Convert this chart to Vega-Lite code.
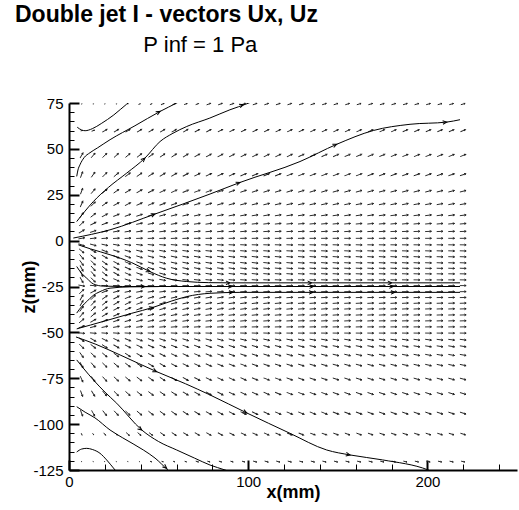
{
  "$schema": "https://vega.github.io/schema/vega-lite/v6.json",
  "width": 448,
  "height": 367,
  "autosize": {"type": "none"},
  "padding": {"left": 69, "top": 103, "right": 2, "bottom": 40},
  "background": "white",
  "config": {"view": {"stroke": null}, "font": "Liberation Sans"},
  "title": {
    "text": "Double jet I - vectors Ux, Uz",
    "subtitle": "\u200b\u00a0\u00a0\u00a0\u00a0\u00a0\u00a0\u00a0\u00a0\u00a0\u00a0\u00a0\u00a0\u00a0\u00a0\u00a0\u00a0\u00a0\u00a0\u00a0\u00a0\u00a0P inf = 1 Pa",
    "anchor": "start",
    "frame": "group",
    "dx": -54,
    "offset": 40,
    "font": "Liberation Sans",
    "fontSize": 23,
    "fontWeight": "bold",
    "color": "black",
    "subtitleFont": "Liberation Sans",
    "subtitleFontSize": 22,
    "subtitleColor": "black",
    "subtitlePadding": 8
  },
  "datasets": {
    "cols": [
      {"k":1,"x":7},{"k":2,"x":13.45},{"k":3,"x":19.9},{"k":4,"x":26.35},{"k":5,"x":32.8},{"k":6,"x":39.25},{"k":7,"x":45.7},{"k":8,"x":52.15},{"k":9,"x":58.6},{"k":10,"x":65.05},{"k":11,"x":71.5},{"k":12,"x":77.95},{"k":13,"x":84.4},{"k":14,"x":90.85},{"k":15,"x":97.3},{"k":16,"x":103.75},{"k":17,"x":110.2},{"k":18,"x":116.65},{"k":19,"x":123.1},{"k":20,"x":129.55},{"k":21,"x":136},{"k":22,"x":142.45},{"k":23,"x":148.9},{"k":24,"x":155.35},{"k":25,"x":161.8},{"k":26,"x":168.25},{"k":27,"x":174.7},{"k":28,"x":181.15},{"k":29,"x":187.6},{"k":30,"x":194.05},{"k":31,"x":200.5},{"k":32,"x":206.95},{"k":33,"x":213.4},{"k":34,"x":219.85}
    ],
    "rows": [
      {"z":74.4,"m":0.1,"a":[30,30,30,30,30]},
      {"z":74.4,"m":0.3,"a":[28,28]},
      {"z":74.4,"m":0.5,"a":[24,22,21,20]},
      {"z":74.4,"m":0.7,"a":[20,20,19,19,19,18,18,18,18,17,17,17,17,16,16,16,16,16,15,15,15,15,15]},
      {"z":59.9,"m":0.3,"a":[10]},
      {"z":59.9,"m":0.5,"a":[20]},
      {"z":59.9,"m":0.85,"a":[30,32,32,32,31,31,30,30,29,29,28,28,27,27,27,26,26,26,25,25,25,25,24,24,24,24,23,23,23,23,22,22]},
      {"z":46.4,"m":0.95,"a":[60,50,45,42,40,38,36,34,33,31,30,29,29,28,27,27,26,26,26,25,25,25,25,24,24,24,24,23,23,23,23,22,22,22]},
      {"z":35.9,"m":1,"a":[70,55,45,40,37,35,33,31,30,28,27,26,26,25,24,24,23,23,22,22,22,22,21,21,21,20,20,20,19,19,19,18,18,18]},
      {"z":26.9,"m":1,"a":[70,50,40,35,32,30,28,26,25,23,22,21,21,20,19,19,18,18,17,17,17,17,16,16,16,16,15,15,15,15,15,14,14,14]},
      {"z":19.9,"m":1,"a":[65,45,35,30,27,25,23,21,20,18,17,16,16,15,14,14,13,13,12,12,12,12,12,11,11,11,11,11,11,10,10,10,10,10]},
      {"z":13.8,"m":1,"a":[55,38,28,23,20,18,16,15,14,13,12,11,11,10,10,9,9,9,8,8,8,8,8,8,8,8,7,7,7,7,7,7,7,7]},
      {"z":9.2,"m":1,"a":[45,28,20,16,14,12,11,10,10,9,8,8,7,7,7,6,6,6,5,5,5,5,5,5,5,5,5,5,5,5,5,5,5,5]},
      {"z":5.0,"m":1,"a":[30,18,12,10,9,8,7,7,6,6,5,5,5,4,4,4,3,3,3,3,3,3,3,3,3,3,3,2,2,2,2,2,2,2]},
      {"z":1.25,"m":1,"a":[10,6,4,3,3,2,2,2,2,2,1,1,1,1,1,1,1,1,1,1,0,0,0,0,0,0,0,0,0,0,0,0,0,0]},
      {"z":-2.3,"m":1,"a":[-20,-15,-12,-10,-8,-7,-6,-5,-5,-4,-4,-4,-3,-3,-3,-2,-2,-2,-2,-2,-2,-2,-2,-2,-2,-1,-1,-1,-1,-1,-1,-1,-1,-1]},
      {"z":-5.6,"m":1,"a":[-40,-30,-22,-18,-15,-13,-11,-10,-9,-8,-7,-6,-6,-5,-5,-4,-4,-4,-3,-3,-3,-3,-3,-3,-3,-3,-2,-2,-2,-2,-2,-2,-2,-2]},
      {"z":-8.8,"m":1,"a":[-50,-38,-30,-24,-20,-17,-15,-13,-12,-10,-9,-8,-8,-7,-6,-6,-5,-5,-4,-4,-4,-4,-4,-3,-3,-3,-3,-3,-3,-3,-2,-2,-2,-2]},
      {"z":-12.1,"m":1,"a":[-55,-45,-35,-28,-23,-20,-17,-15,-13,-11,-10,-9,-9,-8,-7,-7,-6,-5,-5,-4,-4,-4,-4,-3,-3,-3,-3,-3,-3,-3,-2,-2,-2,-2]},
      {"z":-15.1,"m":1,"a":[-60,-48,-38,-30,-25,-21,-18,-16,-14,-12,-11,-10,-9,-8,-7,-7,-6,-5,-5,-4,-4,-4,-4,-3,-3,-3,-3,-3,-3,-3,-2,-2,-2,-2]},
      {"z":-18.1,"m":1,"a":[-65,-50,-38,-30,-24,-20,-17,-15,-13,-11,-10,-9,-8,-7,-6,-6,-5,-4,-4,-3,-3,-3,-3,-2,-2,-2,-2,-2,-2,-2,-1,-1,-1,-1]},
      {"z":-21.4,"m":1,"a":[-60,-45,-32,-24,-18,-15,-12,-10,-9,-8,-7,-6,-6,-5,-4,-4,-3,-3,-2,-2,-2,-2,-2,-2,-2,-1,-1,-1,-1,-1,-1,-1,-1,-1]},
      {"z":-24.5,"m":1,"a":[-10,-5,-2,-1,0,0,0,0,0,0,0,0,0,0,0,0,0,0,0,0,0,0,0,0,0,0,0,0,0,0,0,0,0,0]},
      {"z":-27.8,"m":1,"a":[45,30,20,15,12,10,8,7,6,6,5,5,4,4,4,3,3,3,3,2,2,2,2,2,2,2,2,1,1,1,1,1,1,1]},
      {"z":-31.0,"m":1,"a":[60,45,35,28,22,19,16,14,13,11,10,9,9,8,7,6,5,5,4,4,3,3,3,3,2,2,2,2,2,2,1,1,1,1]},
      {"z":-34.1,"m":1,"a":[60,48,38,30,25,21,18,16,14,12,11,10,9,8,7,7,6,5,5,4,4,4,4,3,3,3,3,3,3,3,2,2,2,2]},
      {"z":-37.2,"m":1,"a":[55,45,35,28,23,20,17,15,13,11,10,9,9,8,7,7,6,5,5,4,4,4,4,3,3,3,3,3,3,3,2,2,2,2]},
      {"z":-40.5,"m":1,"a":[50,40,30,24,20,17,15,13,12,10,9,8,8,7,6,6,5,5,4,4,4,4,4,3,3,3,3,3,3,3,2,2,2,2]},
      {"z":-43.7,"m":1,"a":[40,30,22,18,15,13,11,10,9,8,7,6,6,5,5,4,4,4,3,3,3,3,3,3,3,3,2,2,2,2,2,2,2,2]},
      {"z":-47.0,"m":1,"a":[20,15,12,10,8,7,6,5,5,4,4,4,3,3,3,2,2,2,2,2,2,2,2,2,2,1,1,1,1,1,1,1,1,1]},
      {"z":-50.4,"m":1,"a":[-5,-5,-4,-4,-3,-3,-3,-3,-3,-2,-2,-2,-2,-2,-2,-2,-2,-2,-1,-1,-1,-1,-1,-1,-1,-1,-1,-1,-1,-1,-1,-1,-1,-1]},
      {"z":-54.0,"m":1,"a":[-35,-30,-27,-25,-23,-21,-20,-19,-18,-17,-16,-15,-15,-14,-13,-13,-12,-12,-11,-11,-10,-10,-10,-9,-9,-9,-9,-8,-8,-8,-8,-7,-7,-7]},
      {"z":-57.6,"m":1,"a":[-45,-38,-33,-30,-28,-26,-25,-23,-22,-21,-20,-19,-18,-17,-16,-16,-15,-14,-13,-13,-12,-12,-12,-11,-11,-11,-10,-10,-10,-10,-9,-9,-9,-9]},
      {"z":-62.3,"m":1,"a":[-55,-45,-40,-36,-33,-31,-29,-27,-26,-24,-23,-22,-21,-20,-19,-18,-17,-16,-15,-15,-14,-14,-13,-13,-13,-12,-12,-12,-11,-11,-11,-10,-10,-10]},
      {"z":-67.8,"m":1,"a":[-60,-50,-44,-40,-37,-34,-32,-30,-28,-26,-25,-24,-23,-22,-21,-20,-19,-18,-17,-17,-16,-16,-15,-15,-15,-14,-14,-14,-13,-13,-13,-12,-12,-12]},
      {"z":-75.4,"m":1,"a":[-65,-55,-48,-43,-40,-37,-35,-33,-31,-29,-28,-27,-26,-25,-24,-23,-22,-21,-20,-20,-19,-19,-18,-18,-18,-17,-17,-17,-16,-16,-16,-15,-15,-15]},
      {"z":-83.3,"m":1,"a":[-70,-58,-50,-45,-42,-39,-37,-35,-33,-31,-30,-29,-28,-27,-26,-25,-24,-23,-22,-22,-21,-21,-20,-20,-20,-19,-19,-19,-18,-18,-18,-17,-17,-17]},
      {"z":-94.0,"m":1,"a":[-70,-60,-52,-47,-43,-40,-38,-36,-34,-32,-31,-30,-29,-28,-27,-26,-25,-24,-23,-23,-22,-22,-21,-21,-21,-20,-20,-20,-19,-19,-19,-18,-18,-18]},
      {"z":-105.4,"m":0.3,"a":[-60,-55]},
      {"z":-105.4,"m":0.5,"a":[-50,-45]},
      {"z":-105.4,"m":0.7,"a":[-42,-40,-37]},
      {"z":-105.4,"m":0.85,"a":[-35,-33,-31,-30,-29,-28,-27,-26,-25,-24,-23,-22,-22,-21,-21,-20,-20,-20,-19,-19,-19,-18,-18,-18,-17,-17,-17]},
      {"z":-120.4,"m":0.12,"a":[-20,-20,-20,-20,-20,-20]},
      {"z":-120.4,"m":0.3,"a":[-18,-18,-17,-17]},
      {"z":-120.4,"m":0.45,"a":[-16,-16,-16,-15,-15]},
      {"z":-120.4,"m":0.6,"a":[-15,-15,-15,-14,-14,-14,-14,-14,-13,-13,-13,-13,-13,-13,-12,-12,-12,-12,-12]}
    ],
    "stream": [
      {"s":1,"i":1,"x":4.6,"z":61.8},{"s":1,"i":2,"x":7,"z":60.3},{"s":1,"i":3,"x":9,"z":59.9},{"s":1,"i":4,"x":13,"z":61},{"s":1,"i":5,"x":18,"z":63.8},{"s":1,"i":6,"x":25,"z":68.5},{"s":1,"i":7,"x":32.2,"z":74.4},{"s":1,"i":8,"x":35,"z":76.5},
      {"s":2,"i":1,"x":4.3,"z":35.0},{"s":2,"i":2,"x":5,"z":38.5},{"s":2,"i":3,"x":6.1,"z":41.3},{"s":2,"i":4,"x":8.4,"z":45.2},{"s":2,"i":5,"x":11.7,"z":47.9},{"s":2,"i":6,"x":16,"z":50.6},{"s":2,"i":7,"x":22.9,"z":55.0},{"s":2,"i":8,"x":36.8,"z":62.6},{"s":2,"i":9,"x":50.8,"z":70.4},{"s":2,"i":10,"x":60.1,"z":75},{"s":2,"i":11,"x":64,"z":77},
      {"s":3,"i":1,"x":4.3,"z":10.4},{"s":3,"i":2,"x":13.6,"z":21.3},{"s":3,"i":3,"x":22,"z":29},{"s":3,"i":4,"x":32.2,"z":36.8},{"s":3,"i":5,"x":42.4,"z":45.0},{"s":3,"i":6,"x":50.8,"z":54.0},{"s":3,"i":7,"x":58,"z":58.5},{"s":3,"i":8,"x":65.7,"z":62.2},{"s":3,"i":9,"x":78.6,"z":66.8},{"s":3,"i":10,"x":89.8,"z":71.3},{"s":3,"i":11,"x":99.3,"z":74.6},{"s":3,"i":12,"x":104,"z":76.5},
      {"s":4,"i":1,"x":2.4,"z":1.4},{"s":4,"i":2,"x":22.9,"z":5.9},{"s":4,"i":3,"x":48.0,"z":14.5},{"s":4,"i":4,"x":78.7,"z":25.4},{"s":4,"i":5,"x":95.4,"z":31.7},{"s":4,"i":6,"x":128.9,"z":43.1},{"s":4,"i":7,"x":149.4,"z":52.5},{"s":4,"i":8,"x":169.8,"z":60.0},{"s":4,"i":9,"x":190.3,"z":63.4},{"s":4,"i":10,"x":210.8,"z":64.6},{"s":4,"i":11,"x":218.2,"z":65.9},
      {"s":5,"i":1,"x":5.2,"z":-2.3},{"s":5,"i":2,"x":12,"z":-4.5},{"s":5,"i":3,"x":22.9,"z":-7.7},{"s":5,"i":4,"x":35,"z":-12},{"s":5,"i":5,"x":45.2,"z":-16.9},{"s":5,"i":6,"x":54.5,"z":-20.5},{"s":5,"i":7,"x":65.7,"z":-22.3},{"s":5,"i":8,"x":78,"z":-22.9},{"s":5,"i":9,"x":89.8,"z":-23.0},{"s":5,"i":10,"x":218.2,"z":-23.0},
      {"s":6,"i":1,"x":4.3,"z":-14.1},{"s":6,"i":2,"x":7,"z":-17.8},{"s":6,"i":3,"x":9.9,"z":-20.5},{"s":6,"i":4,"x":13.6,"z":-23.6},{"s":6,"i":5,"x":19.1,"z":-24.8},{"s":6,"i":6,"x":30,"z":-25},{"s":6,"i":7,"x":218.2,"z":-25},
      {"s":7,"i":1,"x":4.3,"z":-39.5},{"s":7,"i":2,"x":7,"z":-36},{"s":7,"i":3,"x":9.9,"z":-33.2},{"s":7,"i":4,"x":13.6,"z":-29.8},{"s":7,"i":5,"x":17.3,"z":-27.8},{"s":7,"i":6,"x":22.9,"z":-25.9},{"s":7,"i":7,"x":34,"z":-25.2},{"s":7,"i":8,"x":50,"z":-25.05},
      {"s":8,"i":1,"x":4.3,"z":-48.1},{"s":8,"i":2,"x":12,"z":-46},{"s":8,"i":3,"x":22.9,"z":-43.0},{"s":8,"i":4,"x":35,"z":-39.6},{"s":8,"i":5,"x":46.9,"z":-36.4},{"s":8,"i":6,"x":57,"z":-33},{"s":8,"i":7,"x":65.7,"z":-30.5},{"s":8,"i":8,"x":78.7,"z":-28.7},{"s":8,"i":9,"x":95.4,"z":-28.2},{"s":8,"i":10,"x":218.2,"z":-28.2},
      {"s":9,"i":1,"x":3.9,"z":-52.5},{"s":9,"i":2,"x":15,"z":-56.5},{"s":9,"i":3,"x":28.5,"z":-62.3},{"s":9,"i":4,"x":48.9,"z":-71.4},{"s":9,"i":5,"x":65,"z":-78},{"s":9,"i":6,"x":78.7,"z":-84.1},{"s":9,"i":7,"x":99.2,"z":-93.9},{"s":9,"i":8,"x":123.3,"z":-105.0},{"s":9,"i":9,"x":143.8,"z":-114.1},{"s":9,"i":10,"x":156.8,"z":-116.8},{"s":9,"i":11,"x":175,"z":-119.5},{"s":9,"i":12,"x":200.5,"z":-125},{"s":9,"i":13,"x":203,"z":-126},
      {"s":10,"i":1,"x":4.3,"z":-65.0},{"s":10,"i":2,"x":8,"z":-69.5},{"s":10,"i":3,"x":13.6,"z":-75.9},{"s":10,"i":4,"x":20,"z":-82.5},{"s":10,"i":5,"x":26.6,"z":-88.6},{"s":10,"i":6,"x":40.6,"z":-103.2},{"s":10,"i":7,"x":50,"z":-109.5},{"s":10,"i":8,"x":60.1,"z":-114.1},{"s":10,"i":9,"x":70,"z":-118.5},{"s":10,"i":10,"x":78.7,"z":-122.3},{"s":10,"i":11,"x":87.1,"z":-125},{"s":10,"i":12,"x":90,"z":-126},
      {"s":11,"i":1,"x":4.3,"z":-90.5},{"s":11,"i":2,"x":9,"z":-93.5},{"s":11,"i":3,"x":14.5,"z":-96.6},{"s":11,"i":4,"x":22.9,"z":-103.2},{"s":11,"i":5,"x":30,"z":-107.5},{"s":11,"i":6,"x":41.5,"z":-114.1},{"s":11,"i":7,"x":48,"z":-118.5},{"s":11,"i":8,"x":55.2,"z":-125},{"s":11,"i":9,"x":57,"z":-126.5},
      {"s":12,"i":1,"x":4.3,"z":-115.2},{"s":12,"i":2,"x":7,"z":-113.6},{"s":12,"i":3,"x":9.9,"z":-113.2},{"s":12,"i":4,"x":13,"z":-113.8},{"s":12,"i":5,"x":17.3,"z":-115.9},{"s":12,"i":6,"x":21,"z":-119.5},{"s":12,"i":7,"x":25.7,"z":-125},{"s":12,"i":8,"x":27,"z":-126.5}
    ],
    "heads": [
      {"x":50.8,"z":70.4,"a":29},
      {"x":42.4,"z":45.0,"a":43},{"x":97.3,"z":74.1,"a":20},
      {"x":48.0,"z":14.5,"a":20},{"x":95.4,"z":31.7,"a":20},{"x":149.4,"z":52.5,"a":23},{"x":210.8,"z":64.6,"a":6},
      {"x":45.2,"z":-16.9,"a":-22},{"x":89.8,"z":-23,"a":0},{"x":135.4,"z":-23,"a":0},{"x":180.1,"z":-23,"a":0},
      {"x":42.4,"z":-25,"a":0},{"x":91,"z":-25,"a":0},{"x":136.5,"z":-25,"a":0},{"x":181,"z":-25,"a":0},
      {"x":47.0,"z":-36.4,"a":17},{"x":91.5,"z":-28.2,"a":0},{"x":136.2,"z":-28.2,"a":0},{"x":181.9,"z":-28.2,"a":0},
      {"x":48.9,"z":-71.4,"a":-24},{"x":99.2,"z":-93.9,"a":-26},{"x":156.8,"z":-116.8,"a":-11},
      {"x":40.6,"z":-103.2,"a":-38},
      {"x":54.5,"z":-124,"a":-39}
    ]
  },
  "layer": [
    {
      "data": {"name": "rows"},
      "transform": [
        {"flatten": ["a"]},
        {"window": [{"op": "row_number", "as": "k"}], "groupby": ["z"]},
        {"lookup": "k", "from": {"data": {"name": "cols"}, "key": "k", "fields": ["x"]}}
      ],
      "mark": {"type": "point", "shape": "M-1,0L1,0M0.45,-0.28L1,0L0.45,0.28", "filled": false, "stroke": "#222", "strokeWidth": 0.9, "opacity": 1},
      "encoding": {
        "x": {"field": "x", "type": "quantitative",
          "scale": {"domain": [0, 250], "nice": false, "zero": false},
          "axis": {"orient": "bottom", "values": [0, 100, 200], "title": "x(mm)", "grid": false,
            "domainColor": "black", "domainWidth": 2, "tickColor": "black", "tickWidth": 2, "tickSize": -10,
            "labelPadding": 14, "labelFontSize": 15, "labelColor": "black", "labelFont": "Liberation Sans", "labelFlush": false, "labelOverlap": false,
            "labelExpr": "toString(datum.value)",
            "titleFont": "Liberation Sans", "titleFontSize": 18, "titleFontWeight": "bold", "titleColor": "black", "titleBaseline": "alphabetic", "titleY": 27}},
        "y": {"field": "z", "type": "quantitative",
          "scale": {"domain": [-125, 75], "nice": false, "zero": false},
          "axis": {"orient": "left", "values": [-125, -100, -75, -50, -25, 0, 25, 50, 75], "title": "z(mm)", "grid": false,
            "domainColor": "black", "domainWidth": 2, "tickColor": "black", "tickWidth": 2, "tickSize": -10,
            "labelPadding": 16, "labelFontSize": 15, "labelColor": "black", "labelFont": "Liberation Sans", "labelFlush": false, "labelOverlap": false,
            "labelExpr": "toString(datum.value)",
            "titleFont": "Liberation Sans", "titleFontSize": 18, "titleFontWeight": "bold", "titleColor": "black", "titleAngle": -90, "titleBaseline": "top", "titleAlign": "center", "titleX": -49, "titleY": 183.5}},
        "angle": {"field": "a", "type": "quantitative", "scale": {"domain": [-90, 90], "range": [90, -90]}},
        "size": {"field": "m", "type": "quantitative", "scale": {"type": "pow", "exponent": 2, "domain": [0, 1], "range": [0, 40]}, "legend": null}
      }
    },
    {
      "data": {"name": "stream"},
      "mark": {"type": "line", "color": "black", "strokeWidth": 1, "clip": true, "interpolate": "monotone"},
      "encoding": {
        "x": {"field": "x", "type": "quantitative",
          "axis": {"orient": "bottom", "values": [20, 40, 60, 80, 120, 140, 160, 180, 220, 240], "title": null, "labels": false, "domain": false, "grid": false, "tickColor": "black", "tickWidth": 1, "tickSize": -6}},
        "y": {"field": "z", "type": "quantitative",
          "axis": {"orient": "left", "values": [-120, -115, -110, -105, -95, -90, -85, -80, -70, -65, -60, -55, -45, -40, -35, -30, -20, -15, -10, -5, 5, 10, 15, 20, 30, 35, 40, 45, 55, 60, 65, 70], "title": null, "labels": false, "domain": false, "grid": false, "tickColor": "black", "tickWidth": 1, "tickSize": -5}},
        "detail": {"field": "s"},
        "order": {"field": "i", "type": "quantitative"}
      }
    },
    {
      "data": {"name": "heads"},
      "mark": {"type": "point", "shape": "M-1,-0.45L0,0L-1,0.45", "filled": false, "stroke": "black", "strokeWidth": 1, "opacity": 1, "size": 64},
      "encoding": {
        "x": {"field": "x", "type": "quantitative", "axis": null},
        "y": {"field": "z", "type": "quantitative", "axis": null},
        "angle": {"field": "a", "type": "quantitative", "scale": {"domain": [-90, 90], "range": [90, -90]}}
      }
    }
  ],
  "resolve": {"axis": {"x": "independent", "y": "independent"}}
}
